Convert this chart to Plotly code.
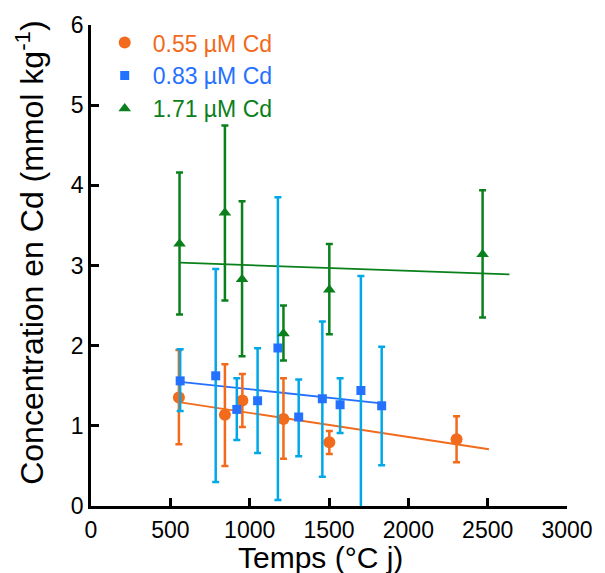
import plotly.graph_objects as go

# ---- data ----
x_055 = [554, 844, 954, 1213, 1502, 2304]
y_055 = [1.354, 1.139, 1.317, 1.085, 0.795, 0.832]
hi_055 = [1.946, 1.768, 1.648, 1.594, 0.936, 1.118]
lo_055 = [0.77, 0.50, 0.985, 0.588, 0.65, 0.547]

x_083 = [562, 786, 919, 1050, 1178, 1309, 1458, 1570, 1701, 1832]
y_083 = [1.561, 1.624, 1.205, 1.313, 1.971, 1.110, 1.338, 1.263, 1.441, 1.250]
hi_083 = [1.954, 2.957, 1.594, 1.967, 3.851, 1.578, 2.302, 1.594, 2.870, 1.988]
lo_083 = [1.184, 0.298, 0.824, 0.662, 0.075, 0.621, 0.364, 0.911, -0.4, 0.509]

x_171 = [558, 844, 952, 1213, 1502, 2468]
y_171 = [3.271, 3.657, 2.828, 2.153, 2.696, 3.139]
hi_171 = [4.161, 4.745, 3.801, 2.501, 3.267, 3.938]
lo_171 = [2.389, 2.563, 1.867, 1.814, 2.141, 2.352]

# trend lines (start / end)
tx_055 = [554, 2508]
ty_055 = [1.296, 0.708]
tx_083 = [562, 1832]
ty_083 = [1.549, 1.280]
tx_171 = [562, 2637]
ty_171 = [3.035, 2.890]

names = ["0.55 µM Cd", "0.83 µM Cd", "1.71 µM Cd"]
x_ticks = [0, 500, 1000, 1500, 2000, 2500, 3000]
y_ticks = [0, 1, 2, 3, 4, 5, 6]

ORANGE = "#f26a1b"
BLUE = "#2470ff"
CYAN = "#00a8e8"
GREEN = "#0a801c"
FONT = "Liberation Sans, Arial, sans-serif"

series = [
    (x_055, y_055, hi_055, lo_055, tx_055, ty_055, ORANGE, ORANGE, "circle", 12, names[0]),
    (x_083, y_083, hi_083, lo_083, tx_083, ty_083, BLUE, CYAN, "square", 9, names[1]),
    (x_171, y_171, hi_171, lo_171, tx_171, ty_171, GREEN, GREEN, "triangle-up", 11, names[2]),
]

fig = go.Figure()
# trend lines first (no legend)
for xs, ys, hi, lo, tx, ty, mc, ec, sym, sz, nm in series:
    fig.add_trace(go.Scatter(x=tx, y=ty, mode="lines", line=dict(color=mc, width=1.8),
                             showlegend=False, hoverinfo="skip"))
for xs, ys, hi, lo, tx, ty, mc, ec, sym, sz, nm in series:
    fig.add_trace(go.Scatter(
        x=xs, y=ys, mode="markers",
        name=f"<span style='color:{mc}'>{nm}</span>",
        marker=dict(symbol=sym, size=sz, color=mc, line=dict(width=0)),
        error_y=dict(type="data", symmetric=False,
                     array=[h - v for h, v in zip(hi, ys)],
                     arrayminus=[v - l for v, l in zip(ys, lo)],
                     color=ec, thickness=2.5, width=3.5),
    ))

fig.update_layout(
    width=605, height=573,
    margin=dict(l=91, r=32, t=23, b=67),
    paper_bgcolor="white", plot_bgcolor="white",
    font=dict(family=FONT, color="black", size=23),
    showlegend=True,
    legend=dict(x=0.012, y=1.008, xanchor="left", yanchor="top",
                bgcolor="rgba(0,0,0,0)", font=dict(size=23, family=FONT),
                itemwidth=46, tracegroupgap=0),
    xaxis=dict(range=[0, 3000], tickvals=x_ticks, ticktext=[str(v) for v in x_ticks],
               showline=True, linecolor="black", linewidth=2.5,
               ticks="inside", ticklen=8, tickwidth=2.5, tickcolor="black",
               showgrid=False, zeroline=False, tickfont=dict(size=23),
               ticklabelstandoff=2),
    yaxis=dict(range=[0, 6], tickvals=y_ticks, ticktext=[str(v) for v in y_ticks],
               showline=True, linecolor="black", linewidth=2.5,
               ticks="inside", ticklen=8, tickwidth=2.5, tickcolor="black",
               showgrid=False, zeroline=False, tickfont=dict(size=23)),
    annotations=[
        dict(text="Temps (°C j)", xref="paper", yref="paper",
             x=(323 - 91) / 482, y=-(558 - 506) / 483, xanchor="center", yanchor="middle",
             showarrow=False, font=dict(size=30, family=FONT)),
        dict(text="Concentration en Cd (mmol kg<sup>-1</sup>)", xref="paper", yref="paper",
             x=-(91 - 29) / 482, y=(506 - 251) / 483, xanchor="center", yanchor="middle",
             textangle=-90, showarrow=False, font=dict(size=32, family=FONT)),
    ],
)

fig.write_html("out.html", config={"displayModeBar": False},
               post_script="document.body.style.margin='0';")
